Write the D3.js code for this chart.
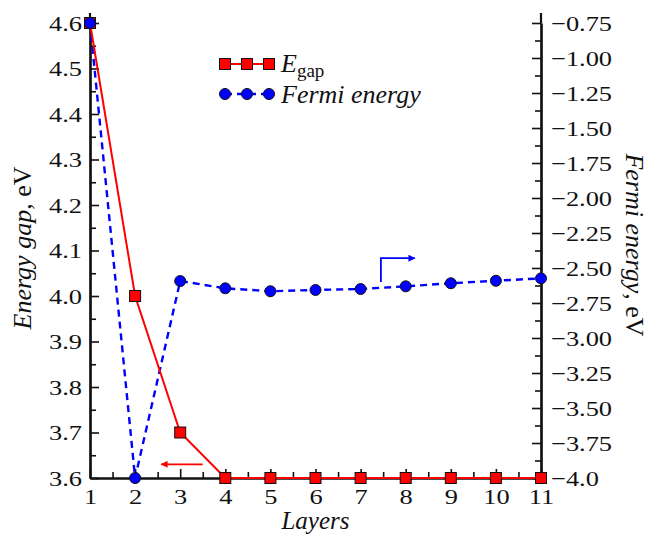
<!DOCTYPE html>
<html>
<head>
<meta charset="utf-8">
<script src="https://cdn.jsdelivr.net/npm/d3@7"></script>
</head>
<body style="margin:0;background:#fff">
<svg id="chart" width="658" height="541"></svg>
<script>
const layers = [1, 2, 3, 4, 5, 6, 7, 8, 9, 10, 11];
const egap = [4.6, 4.0, 3.7, 3.6, 3.6, 3.6, 3.6, 3.6, 3.6, 3.6, 3.6];
const fermi = [-0.75, -4.0, -2.593, -2.645, -2.666, -2.657, -2.65, -2.631, -2.609, -2.591, -2.574];
const leftTicks = [3.6, 3.7, 3.8, 3.9, 4.0, 4.1, 4.2, 4.3, 4.4, 4.5, 4.6];
const rightTicks = [-4.0, -3.75, -3.5, -3.25, -3.0, -2.75, -2.5, -2.25, -2.0, -1.75, -1.5, -1.25, -1.0, -0.75];

const FONT = '"Liberation Serif"';
const INK = "#111";
const STRETCH = 1.2; // tick numbers in the picture are drawn a bit wide

const svg = d3.select("#chart").attr("font-family", FONT);
const plotL = 90, plotR = 541, plotT = 23, plotB = 478;

const x = d3.scaleLinear().domain([1, 11]).range([plotL, plotR]);
const yL = d3.scaleLinear().domain([3.6, 4.6]).range([plotB, plotT]);
const yR = d3.scaleLinear().domain([-4.0, -0.75]).range([plotB, plotT]);

const fmtR = v => (v === -4 ? "\u22124.0" : "\u2212" + Math.abs(v).toFixed(2));

// axes
const gx = svg.append("g").attr("transform", `translate(0,${plotB})`)
  .call(d3.axisBottom(x).tickValues(layers).tickFormat(d3.format("d")).tickSizeInner(-9).tickSizeOuter(0).tickPadding(10));
const gxm = svg.append("g").attr("transform", `translate(0,${plotB})`)
  .call(d3.axisBottom(x).tickValues(d3.range(1.5, 11, 1)).tickFormat("").tickSizeInner(-6).tickSizeOuter(0));
const gl = svg.append("g").attr("transform", `translate(${plotL},0)`)
  .call(d3.axisLeft(yL).tickValues(leftTicks).tickFormat(d3.format(".1f")).tickSizeInner(-9).tickSizeOuter(0).tickPadding(8));
const glm = svg.append("g").attr("transform", `translate(${plotL},0)`)
  .call(d3.axisLeft(yL).tickValues(d3.range(3.65, 4.6, 0.1)).tickFormat("").tickSizeInner(-6).tickSizeOuter(0));
const gr = svg.append("g").attr("transform", `translate(${plotR},0)`)
  .call(d3.axisRight(yR).tickValues(rightTicks).tickFormat(fmtR).tickSizeInner(-9).tickSizeOuter(0).tickPadding(10));
const grm = svg.append("g").attr("transform", `translate(${plotR},0)`)
  .call(d3.axisRight(yR).tickValues(d3.range(-3.875, -0.7, 0.25)).tickFormat("").tickSizeInner(-6).tickSizeOuter(0));

[gx, gxm, gl, glm, gr, grm].forEach(g => {
  g.attr("font-family", FONT).attr("font-size", 22);
  g.selectAll(".domain").attr("stroke", INK).attr("stroke-width", 2.2);
  g.selectAll(".tick line").attr("stroke", INK).attr("stroke-width", 1.6);
  g.selectAll(".tick text").attr("fill", INK).attr("font-family", FONT).each(function() {
    const t = d3.select(this);
    const tx = +t.attr("x") || 0;
    t.attr("x", tx / STRETCH).attr("transform", `scale(${STRETCH},1)`);
  });
});
// vertical axes run a little above the top tick
[plotL, plotR].forEach(px => svg.append("line").attr("x1", px).attr("x2", px).attr("y1", 13).attr("y2", plotT)
  .attr("stroke", INK).attr("stroke-width", 2.2));

// axis titles
svg.append("text").attr("x", x(6)).attr("y", 529).attr("text-anchor", "middle").attr("font-family", FONT)
  .attr("font-size", 25).attr("font-style", "italic").attr("fill", INK).text("Layers");

const lt = svg.append("text").attr("transform", "translate(31,248) rotate(-90)").attr("font-family", FONT)
  .attr("text-anchor", "middle").attr("font-size", 26).attr("fill", INK);
lt.append("tspan").attr("font-style", "italic").text("Energy gap");
lt.append("tspan").text(", eV");

const rt = svg.append("text").attr("transform", "translate(626,245) rotate(90)").attr("font-family", FONT)
  .attr("text-anchor", "middle").attr("font-size", 26).attr("fill", INK);
rt.append("tspan").attr("font-style", "italic").text("Fermi energy");
rt.append("tspan").text(", eV");

// series
const lineE = d3.line().x((d, i) => x(layers[i])).y(d => yL(d));
const lineF = d3.line().x((d, i) => x(layers[i])).y(d => yR(d));

svg.append("path").datum(fermi).attr("d", lineF).attr("fill", "none")
  .attr("stroke", "#0000ff").attr("stroke-width", 2.4).attr("stroke-dasharray", "7,5");
svg.append("path").datum(egap).attr("d", lineE).attr("fill", "none")
  .attr("stroke", "#ff0000").attr("stroke-width", 2);

svg.selectAll(".sq").data(egap).enter().append("rect")
  .attr("x", (d, i) => x(layers[i]) - 5.5).attr("y", d => yL(d) - 5.5)
  .attr("width", 11).attr("height", 11)
  .attr("fill", "#ff0000").attr("stroke", INK).attr("stroke-width", 1);

svg.selectAll(".ci").data(fermi).enter().append("circle")
  .attr("cx", (d, i) => x(layers[i])).attr("cy", d => yR(d)).attr("r", 5.5)
  .attr("fill", "#0000ff").attr("stroke", INK).attr("stroke-width", 1);

// arrows pointing at each series' axis
const defs = svg.append("defs");
[["ahR", "#ff0000"], ["ahB", "#0000ff"]].forEach(([id, c]) => {
  defs.append("marker").attr("id", id).attr("viewBox", "0 0 10 10").attr("refX", 9).attr("refY", 5)
    .attr("markerWidth", 12).attr("markerHeight", 7).attr("markerUnits", "userSpaceOnUse").attr("orient", "auto")
    .append("path").attr("d", "M0,0 L10,5 L0,10 Z").attr("fill", c);
});
svg.append("path").attr("d", `M${x(3.5)},${yL(3.63)} L${x(2.58)},${yL(3.63)}`)
  .attr("stroke", "#ff0000").attr("stroke-width", 1.8).attr("fill", "none").attr("marker-end", "url(#ahR)");
svg.append("path").attr("d", `M${x(7.45)},${yR(-2.6)} L${x(7.45)},${yR(-2.43)} L${x(8.2)},${yR(-2.43)}`)
  .attr("stroke", "#0000ff").attr("stroke-width", 1.8).attr("fill", "none").attr("marker-end", "url(#ahB)");

// legend
const lg = svg.append("g").attr("transform", "translate(225,64)").attr("font-family", FONT);
lg.append("line").attr("x1", 0).attr("x2", 44).attr("stroke", "#ff0000").attr("stroke-width", 2);
[0, 22, 44].forEach(v => lg.append("rect").attr("x", v - 5.5).attr("y", -5.5).attr("width", 11).attr("height", 11)
  .attr("fill", "#ff0000").attr("stroke", INK).attr("stroke-width", 1));
const le = lg.append("text").attr("x", 56).attr("y", 8).attr("font-size", 26).attr("fill", INK);
le.append("tspan").attr("font-style", "italic").text("E");
le.append("tspan").attr("dy", 5).attr("font-size", 19).text("gap");

lg.append("line").attr("x1", 0).attr("x2", 44).attr("y1", 30).attr("y2", 30)
  .attr("stroke", "#0000ff").attr("stroke-width", 2.4).attr("stroke-dasharray", "7,5");
[0, 22, 44].forEach(v => lg.append("circle").attr("cx", v).attr("cy", 30).attr("r", 5.5)
  .attr("fill", "#0000ff").attr("stroke", INK).attr("stroke-width", 1));
lg.append("text").attr("x", 56).attr("y", 39).attr("font-size", 26).attr("font-style", "italic").attr("fill", INK)
  .text("Fermi energy");
</script>
</body>
</html>
